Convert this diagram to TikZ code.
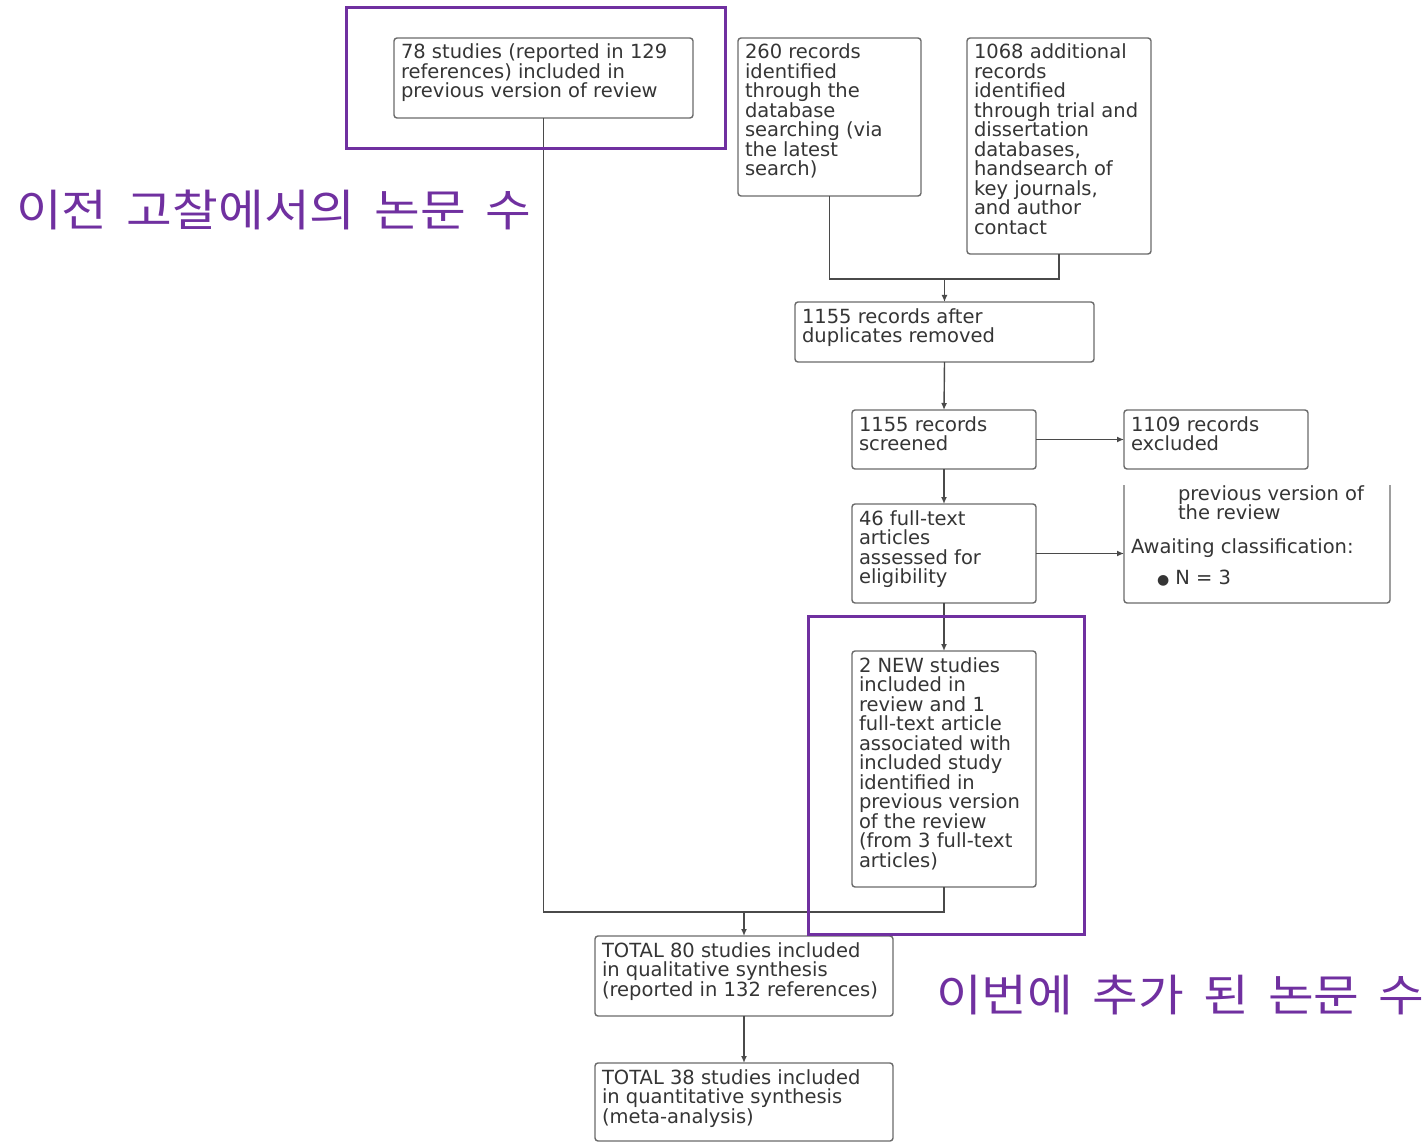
\documentclass[tikz,border=0pt]{standalone}
\usepackage{fontspec}
\usetikzlibrary{arrows.meta}
\newfontfamily\boxfont{DejaVu Sans}
\newfontfamily\krfont[WordSpace=1.72,FakeStretch=1.13]{Noto Sans CJK KR}
\definecolor{boxgray}{HTML}{6A6A6A}
\definecolor{linegray}{HTML}{4A4A4A}
\definecolor{txtgray}{HTML}{353535}
\definecolor{hlpurple}{HTML}{7030A0}
\newcommand\bx[6]{\node[box] (#1) at (#2,#3) {\parbox[c][#5pt][t]{#4pt}{\leftskip=7pt\rightskip=0pt plus 1fil\parindent=0pt\rule{0pt}{21pt}#6}};}
\tikzset{
  box/.style={draw=boxgray, line width=1.4pt, rounded corners=3pt, fill=white,
    inner sep=0pt, outer sep=0pt, anchor=north west, text=txtgray,
    font={\boxfont\fontsize{19.5}{19.5}\selectfont}},
  conn/.style={draw=linegray, line width=1.4pt},
  arr/.style={conn, -{Latex[length=7pt,width=6pt]}},
  hl/.style={draw=hlpurple, line width=3pt},
  kr/.style={text=hlpurple, inner sep=0pt, font={\krfont\fontsize{44}{50}\selectfont}}
}
\begin{document}
\begin{tikzpicture}[x=1pt,y=-1pt]
\useasboundingbox[fill=white] (0,0) rectangle (1425,1142);

\bx{A}{394}{38}{299}{80}{78 studies (reported in 129\\references) included in\\previous version of review}
\bx{B}{738}{38}{183}{158}{260 records\\identified\\through the\\database\\searching (via\\the latest\\search)}
\bx{C}{967}{38}{184}{216}{1068 additional\\records\\identified\\through trial and\\dissertation\\databases,\\handsearch of\\key journals,\\and author\\contact}
\bx{D}{795}{302}{299}{60}{1155 records after\\duplicates removed}
\bx{E}{852}{410}{184}{59}{1155 records\\screened}
\bx{F}{1124}{410}{184}{59}{1109 records\\excluded}
\bx{G}{852}{504}{184}{99}{46 full-text\\articles\\assessed for\\eligibility}
\bx{I}{852}{651}{184}{236}{2 NEW studies\\included in\\review and 1\\full-text article\\associated with\\included study\\identified in\\previous version\\of the review\\(from 3 full-text\\articles)}
\bx{J}{595}{936}{298}{80}{TOTAL 80 studies included\\in qualitative synthesis\\(reported in 132 references)}
\bx{K}{595}{1063}{298}{78}{TOTAL 38 studies included\\in quantitative synthesis\\(meta-analysis)}

% open-topped box
\node[box, draw=none, fill=none] (H) at (1124,485) {\parbox[c][118pt][t]{266pt}{\leftskip=7pt\rightskip=0pt plus 1fil\parindent=0pt\rule{0pt}{15pt}\hspace*{47pt}previous version of\\\hspace*{47pt}the review\\[14pt]Awaiting classification:\\[11.5pt]\hspace*{26pt}{\fontsize{14}{14}\selectfont ●} N = 3}};
\draw[draw=boxgray, line width=1.4pt, rounded corners=3pt] (H.north west) -- (H.south west) -- (H.south east) -- (H.north east);

\coordinate (m1) at (944.5,279);
\coordinate (m2) at (944,912);
\coordinate (m3) at (744,912);

\draw[conn] (B.south) |- (m1) -| (C.south);
\draw[arr] (m1) -- (D.north);
\draw[arr] (D.south) -- (E.north);
\draw[arr] (E.east) -- (F.west);
\draw[arr] (E.south) -- (G.north);
\draw[arr] (G.east) -- (G.east -| H.west);
\draw[arr] (G.south) -- (I.north);
\draw[conn] (A.south) |- (m2) -- (I.south);
\draw[arr] (m3) -- (J.north);
\draw[arr] (J.south) -- (K.north);

\draw[hl] (346,8) rectangle (725,149);
\draw[hl] (808,616) rectangle (1084,934);

\node[kr, anchor=west] (L1) at (16,210) {이전 고찰에서의 논문 수};
\node[kr, anchor=west] (L2) at (936,995) {이번에 추가 된 논문 수};
\end{tikzpicture}
\end{document}
